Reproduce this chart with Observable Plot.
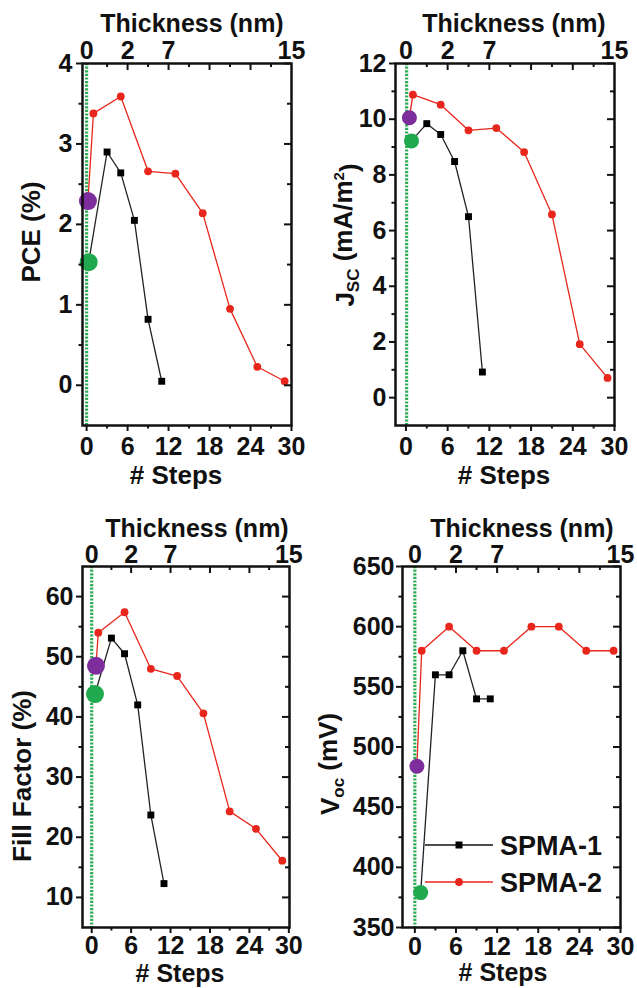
<!DOCTYPE html>
<html><head><meta charset="utf-8">
<script src="https://cdn.jsdelivr.net/npm/d3@7"></script>
<script src="https://cdn.jsdelivr.net/npm/@observablehq/plot@0.6"></script>
<style>
body{margin:0;background:#fff;}
#wrap{position:relative;width:637px;height:988px;overflow:hidden;font-family:"Liberation Sans",Arial,sans-serif;}
.panel{position:absolute;}
</style></head><body><div id="wrap"></div>
<script>
// ---- data ----
const stepsSPMA1 = [3, 5, 7, 9, 11];
const stepsSPMA2 = [1, 5, 9, 13, 17, 21, 25, 29];
const pceSPMA1 = [2.90, 2.64, 2.05, 0.82, 0.05];
const pceSPMA2 = [3.38, 3.59, 2.66, 2.63, 2.14, 0.95, 0.23, 0.05];
const jscSPMA1 = [9.84, 9.45, 8.48, 6.50, 0.92];
const jscSPMA2 = [10.88, 10.52, 9.60, 9.68, 8.82, 6.58, 1.92, 0.71];
const ffSPMA1 = [53.1, 50.5, 42.0, 23.7, 12.3];
const ffSPMA2 = [54.0, 57.4, 48.0, 46.8, 40.6, 24.3, 21.4, 16.1];
const vocSPMA1 = [560, 560, 580, 540, 540];
const vocSPMA2 = [580, 600, 580, 580, 600, 600, 580, 580];
// pristine reference devices (PCE, Jsc, FF, Voc)
const purpleStep = [0.2, 0.5, 0.65, 0.3];
const purpleValue = [2.29, 10.05, 48.5, 484];
const greenStep = [0.3, 0.8, 0.5, 0.85];
const greenValue = [1.53, 9.22, 43.8, 379];
const refLineStep = [0, 0.1, 0, 0];
// ticks
const stepTicks = [0, 6, 12, 18, 24, 30];
const stepMinor = [3, 9, 15, 21, 27];
const thicknessTickSteps = [0, 6, 12, 30];
const thicknessLabels = ["0", "2", "7", "15"];
const pceTicks = [0, 1, 2, 3, 4];
const pceMinor = [0.5, 1.5, 2.5, 3.5];
const jscTicks = [0, 2, 4, 6, 8, 10, 12];
const jscMinor = [1, 3, 5, 7, 9, 11];
const ffTicks = [10, 20, 30, 40, 50, 60];
const ffMinor = [15, 25, 35, 45, 55];
const vocTicks = [350, 400, 450, 500, 550, 600, 650];
const vocMinor = [375, 425, 475, 525, 575, 625];
const seriesNames = ["SPMA-1", "SPMA-2"];

const RED = "#e8261c", BLACK = "#000", PURPLE = "#7e2d9c", GREEN = "#20a94e", DOTGREEN = "#30ad55";
const FONT = '"Liberation Sans", Arial, sans-serif';
const TICKFS = 25;
const wrap = document.getElementById("wrap");

function panel(cfg) {
  const W = 318, H = 494;
  const pw = W - cfg.ml - cfg.mr, ph = H - cfg.mt - cfg.mb;
  const s2 = [{x: purpleStep[cfg.i], y: purpleValue[cfg.i]}, ...stepsSPMA2.map((x, k) => ({x, y: cfg.v2[k]}))];
  const s1 = [{x: greenStep[cfg.i], y: greenValue[cfg.i]}, ...stepsSPMA1.map((x, k) => ({x, y: cfg.v1[k]}))];
  const svg = Plot.plot({
    width: W, height: H,
    marginLeft: cfg.ml, marginRight: cfg.mr, marginTop: cfg.mt, marginBottom: cfg.mb,
    x: {domain: cfg.xd},
    y: {domain: cfg.yd},
    style: {fontFamily: FONT, fontSize: TICKFS + "px", fontWeight: "bold", color: "#111", background: "transparent", overflow: "visible"},
    marks: [
      Plot.ruleX([refLineStep[cfg.i]], {x: d => d, stroke: DOTGREEN, strokeWidth: 3.2, strokeDasharray: "2.2,1.4"}),
      Plot.line(s2, {x: "x", y: "y", stroke: RED, strokeWidth: 1.3}),
      Plot.line(s1, {x: "x", y: "y", stroke: "#222", strokeWidth: 1.3}),
      Plot.dot(s2.slice(1), {x: "x", y: "y", r: 3.9, fill: RED}),
      Plot.dot(s1.slice(1), {x: "x", y: "y", r: 3.9, symbol: "square", fill: BLACK}),
      Plot.dot([s2[0]], {x: "x", y: "y", r: cfg.bigR, fill: PURPLE}),
      Plot.dot([s1[0]], {x: "x", y: "y", r: cfg.bigR, fill: GREEN}),
      Plot.axisX({anchor: "bottom", ticks: stepTicks, tickSize: 6, tickPadding: cfg.xPad, strokeWidth: 2,
        tickFormat: d => String(d), fontSize: TICKFS, label: null}),
      Plot.axisX({anchor: "bottom", ticks: stepMinor, tickSize: 3.5, tickFormat: () => "", strokeWidth: 2, label: null}),
      Plot.axisX({anchor: "top", ticks: thicknessTickSteps, tickSize: 0, tickPadding: cfg.topPad, fontSize: TICKFS,
        tickFormat: d => thicknessLabels[thicknessTickSteps.indexOf(d)], label: null}),
      Plot.tickX(stepTicks.slice(1, -1), {x: d => d, insetBottom: ph - 7, strokeWidth: 2}),
      Plot.tickX(stepMinor, {x: d => d, insetBottom: ph - 4, strokeWidth: 2}),
      Plot.axisY({anchor: "left", ticks: cfg.yt, tickSize: 6, tickPadding: cfg.yPad, strokeWidth: 2,
        tickFormat: d => String(d), fontSize: TICKFS, label: null}),
      Plot.axisY({anchor: "left", ticks: cfg.ym, tickSize: 3.5, tickFormat: () => "", strokeWidth: 2, label: null}),
      Plot.tickY(cfg.yt, {y: d => d, insetLeft: pw - 7, strokeWidth: 2}),
      Plot.tickY(cfg.ym, {y: d => d, insetLeft: pw - 4, strokeWidth: 2}),
      Plot.frame({strokeWidth: 2.5, stroke: "#111"})
    ]
  });
  svg.classList.add("panel");
  svg.style.left = cfg.left + "px";
  svg.style.top = cfg.top + "px";
  const s = d3.select(svg);
  const txt = (x, y, size) => s.append("text").attr("x", x).attr("y", y)
    .attr("text-anchor", "middle").attr("font-size", size).attr("font-weight", "bold")
    .attr("font-family", FONT).attr("fill", "#111");
  txt(cfg.xlab[0], cfg.xlab[1], cfg.xlab[2]).text("# Steps");
  txt(cfg.tlab[0], cfg.tlab[1], 25).text("Thickness (nm)");
  const yl = s.append("text").attr("transform", `translate(${cfg.ylab[0]},${cfg.ylab[1]}) rotate(-90)`)
    .attr("text-anchor", "middle").attr("dy", "0.36em").attr("font-size", 26).attr("font-weight", "bold")
    .attr("font-family", FONT).attr("fill", "#111");
  cfg.ytext(yl);
  wrap.appendChild(svg);
  return s;
}

panel({i: 0, left: 0, top: 0, ml: 82, mr: 27, mt: 63, mb: 69, xd: [-0.6, 30], yd: [-0.5, 4], bigR: 9,
  v1: pceSPMA1, v2: pceSPMA2, yt: pceTicks, ym: pceMinor, topPad: 5, yPad: 4, xPad: 6,
  xlab: [176, 484, 26], tlab: [192, 32], ylab: [31, 232],
  ytext: t => t.text("PCE (%)")});

panel({i: 1, left: 318, top: 0, ml: 77, mr: 22, mt: 63, mb: 69, xd: [-1.5, 30], yd: [-1, 12], bigR: 7.5,
  v1: jscSPMA1, v2: jscSPMA2, yt: jscTicks, ym: jscMinor, topPad: 5, yPad: 3, xPad: 6,
  xlab: [186, 484, 26], tlab: [196, 32], ylab: [27, 235],
  ytext: t => {
    t.append("tspan").text("J");
    t.append("tspan").attr("font-size", 17).attr("dy", "0.25em").text("SC");
    t.append("tspan").attr("dy", "-0.25em").text(" (mA/m");
    t.append("tspan").attr("font-size", 15).attr("dy", "-0.55em").text("2");
    t.append("tspan").attr("dy", "0.55em").text(")");
  }});

panel({i: 2, left: 0, top: 494, ml: 82, mr: 29, mt: 72, mb: 61, xd: [-1.4, 30.1], yd: [5, 65], bigR: 9,
  v1: ffSPMA1, v2: ffSPMA2, yt: ffTicks, ym: ffMinor, topPad: 4, yPad: 3, xPad: 3,
  xlab: [180, 488, 25], tlab: [197, 43], ylab: [22, 282],
  ytext: t => t.text("Fill Factor (%)")});

const p4 = panel({i: 3, left: 318, top: 494, ml: 84, mr: 16, mt: 72, mb: 61, xd: [-1.8, 30], yd: [350, 650], bigR: 7.5,
  v1: vocSPMA1, v2: vocSPMA2, yt: vocTicks, ym: vocMinor, topPad: 4, yPad: 2, xPad: 4,
  xlab: [185, 487, 25], tlab: [204, 43], ylab: [12, 270],
  ytext: t => {
    t.append("tspan").text("V");
    t.append("tspan").attr("font-size", 17).attr("dy", "0.25em").text("oc");
    t.append("tspan").attr("dy", "-0.25em").text(" (mV)");
  }});

// legend (inside Voc panel)
const legendRows = [{name: seriesNames[0], color: "#111", sym: "square"}, {name: seriesNames[1], color: RED, sym: "circle"}];
legendRows.forEach((r, k) => {
  const y = 351 + k * 37;
  const g = p4.append("g");
  g.append("line").attr("x1", 107).attr("x2", 175).attr("y1", y).attr("y2", y).attr("stroke", r.color).attr("stroke-width", 1.5);
  if (r.sym === "square") g.append("rect").attr("x", 137.5).attr("y", y - 3.5).attr("width", 7).attr("height", 7).attr("fill", "#000");
  else g.append("circle").attr("cx", 141).attr("cy", y).attr("r", 3.9).attr("fill", RED);
  g.append("text").attr("x", 182).attr("y", y + 9.5).attr("text-anchor", "start").attr("font-size", 27).attr("font-weight", "bold")
    .attr("font-family", FONT).attr("fill", "#111").text(r.name);
});
</script></body></html>
